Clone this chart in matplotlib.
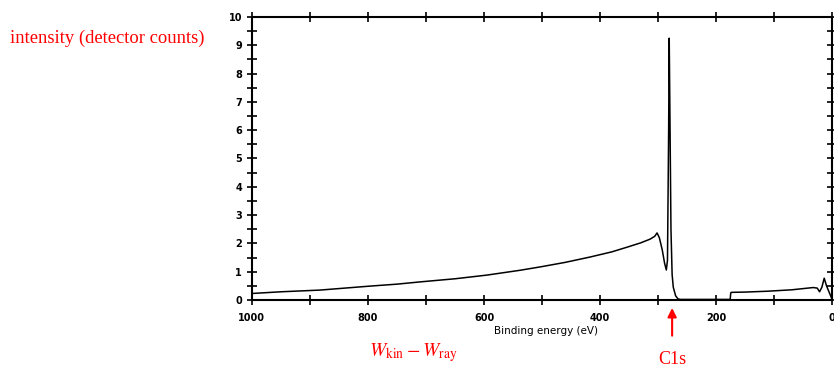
import numpy as np
import matplotlib.pyplot as plt
from matplotlib.ticker import MultipleLocator

plt.rcParams['mathtext.fontset'] = 'stix'

# XPS survey spectrum (binding energy eV, counts)
energy = [1000, 950, 883, 840, 797, 750, 710, 650, 595, 538, 503, 460, 417, 380,
          353, 330, 314, 306, 302, 298, 293, 289, 286, 284, 282, 281, 280, 278,
          276, 274, 270, 266, 262, 240, 200, 176, 175, 174, 150, 112, 70, 33,
          26, 22, 18, 14, 10, 7, 3, 0]
counts = [0.23, 0.29, 0.35, 0.42, 0.49, 0.56, 0.64, 0.75, 0.88, 1.05, 1.17, 1.33,
          1.52, 1.70, 1.87, 2.02, 2.15, 2.25, 2.37, 2.2, 1.77, 1.3, 1.06, 1.4,
          6.0, 9.25, 7.0, 2.5, 0.9, 0.45, 0.15, 0.04, 0.02, 0.02, 0.02, 0.02,
          0.25, 0.27, 0.28, 0.31, 0.36, 0.44, 0.42, 0.29, 0.45, 0.77, 0.5, 0.35,
          0.15, 0.0]

fig = plt.figure(figsize=(8.34, 3.69), dpi=100)
ax = fig.add_axes([0.302, 0.187, 0.696, 0.767])

ax.plot(energy, counts, color='black', linewidth=1.1)

ax.set_xlim(1000, 0)
ax.set_ylim(0, 10)
ax.xaxis.set_major_locator(MultipleLocator(200))
ax.xaxis.set_minor_locator(MultipleLocator(100))
ax.yaxis.set_major_locator(MultipleLocator(1))
ax.yaxis.set_minor_locator(MultipleLocator(0.5))
ax.tick_params(axis='both', which='both', direction='inout', length=7, width=1.2,
               top=True, labelsize=7)
ax.tick_params(axis='x', pad=6)
ax.tick_params(axis='y', which='both', right=True)
ax.tick_params(axis='y', which='both', labelright=False)
for lab in ax.get_xticklabels() + ax.get_yticklabels():
    lab.set_fontweight('bold')
for s in ax.spines.values():
    s.set_linewidth(1.5)
ax.set_xlabel('Binding energy (eV)', fontsize=7.5, labelpad=0)
ax.xaxis.set_label_coords(0.507, -0.092)

# red annotations
fig.text(0.012, 0.895, 'intensity (detector counts)', color='red',
         family='Liberation Serif', fontsize=13.4, va='center')
fig.text(0.443, 0.045, r'$W_{\rm kin} - W_{\rm ray}$', color='red',
         fontsize=14, va='center')
ax.annotate('C1s', xy=(276, -0.28), xytext=(276, -2.1), color='red',
            family='Liberation Serif', fontsize=13, ha='center', va='center',
            annotation_clip=False,
            arrowprops=dict(arrowstyle='-|>', color='red', lw=1.5,
                            shrinkA=9, shrinkB=0))

plt.savefig('out.png')
